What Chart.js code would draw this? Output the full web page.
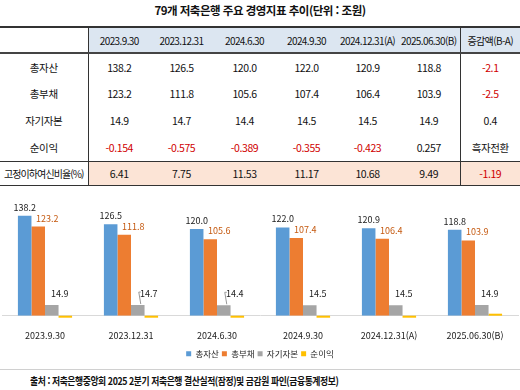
<!DOCTYPE html>
<html lang="ko">
<head>
<meta charset="UTF-8">
<title>79개 저축은행 주요 경영지표 추이</title>
<script src="https://cdn.jsdelivr.net/npm/chart.js"></script>
<style>
  body { margin: 0; background: #fff; font-family: "Noto Sans CJK KR", "Noto Sans", sans-serif; color: #111; }
  .wrap { position: relative; width: 520px; height: 390px; overflow: hidden; }
  .titulo { position: absolute; top: 2px; left: 0; width: 520px; text-align: center; font-size: 11.5px; font-weight: bold; letter-spacing: -0.5px; }
  table { position: absolute; top: 26px; left: 0; width: 520px; border-collapse: collapse; table-layout: fixed; font-family: "Noto Sans CJK KR", sans-serif; font-size: 10.5px; letter-spacing: -0.4px; }
  td, th { padding: 0; text-align: center; font-weight: normal; white-space: nowrap; overflow: visible; }
  thead tr { height: 26px; }
  thead th { background: #dce6f1; border-top: 2px solid #333; border-bottom: 2px solid #444; font-size: 10px; letter-spacing: -0.6px; }
  thead th:first-child { background: #fff; }
  tbody tr { height: 27px; }
  tbody tr.npl { height: 24px; border-top: 1px solid #333; border-bottom: 1px solid #333; }
  tbody tr.npl td { background: #fce4d6; }
  tbody tr.npl td:first-child { background: #fff; font-size: 10px; letter-spacing: -0.9px; }
  .c0 { border-right: 1px solid #333; }
  .c6 { border-right: 1px solid #333; }
  .neg { color: #d00000; }
  .grafico-container { position: absolute; top: 190px; left: 0; width: 520px; height: 178px; }
  .fonte { position: absolute; top: 369px; left: 0; width: 520px; height: 21px; border-top: 1px solid #d0d0d0; background: #fff; }
  .fonte span { position: absolute; left: 30px; top: 3px; font-size: 10.5px; font-weight: bold; letter-spacing: -0.5px; white-space: nowrap; transform: scaleX(0.84); transform-origin: left center; }
</style>
</head>
<body>
<div class="wrap">
  <div class="titulo">79개 저축은행 주요 경영지표 추이(단위 : 조원)</div>
  <table id="tabela">
    <colgroup>
      <col style="width:88px"><col style="width:62px"><col style="width:63px"><col style="width:63px">
      <col style="width:61px"><col style="width:61px"><col style="width:62px"><col style="width:60px">
    </colgroup>
    <thead><tr id="cabecalho"></tr></thead>
    <tbody id="corpo"></tbody>
  </table>
  <div class="grafico-container">
    <canvas id="grafico" width="520" height="178"></canvas>
  </div>
  <div class="fonte"><span>출처 : 저축은행중앙회 2025 2분기 저축은행 결산실적(잠정)및 금감원 파인(금융통계정보)</span></div>
</div>

<script>
  const datas = ['2023.9.30', '2023.12.31', '2024.6.30', '2024.9.30', '2024.12.31(A)', '2025.06.30(B)'];
  const series = ['총자산', '총부채', '자기자본', '순이익'];
  const totalAssets = [138.2, 126.5, 120.0, 122.0, 120.9, 118.8];
  const totalLiab = [123.2, 111.8, 105.6, 107.4, 106.4, 103.9];
  const equity = [14.9, 14.7, 14.4, 14.5, 14.5, 14.9];
  const netIncome = [-0.154, -0.575, -0.389, -0.355, -0.423, 0.257];
  const nplRatio = [6.41, 7.75, 11.53, 11.17, 10.68, 9.49];
  const variacao = ['-2.1', '-2.5', '0.4', '흑자전환', '-1.19'];

  // tabela
  const cab = document.getElementById('cabecalho');
  let h = '<th class="c0"></th>';
  datas.forEach((d, i) => { h += `<th class="${i === 5 ? 'c6' : ''}">${d}</th>`; });
  h += '<th>증감액(B-A)</th>';
  cab.innerHTML = h;

  function celula(v, casas) {
    const txt = typeof v === 'number' ? v.toFixed(casas) : v;
    const neg = String(txt).startsWith('-');
    return `<span class="${neg ? 'neg' : ''}">${txt}</span>`;
  }

  const linhas = [
    { nome: '총자산', vals: totalAssets, casas: 1, varia: variacao[0] },
    { nome: '총부채', vals: totalLiab, casas: 1, varia: variacao[1] },
    { nome: '자기자본', vals: equity, casas: 1, varia: variacao[2] },
    { nome: '순이익', vals: netIncome, casas: 3, varia: variacao[3] },
    { nome: '고정이하여신비율(%)', vals: nplRatio, casas: 2, varia: variacao[4], cls: 'npl' }
  ];
  let corpo = '';
  linhas.forEach(l => {
    corpo += `<tr class="${l.cls || ''}"><td class="c0">${l.nome}</td>`;
    l.vals.forEach((v, i) => { corpo += `<td class="${i === 5 ? 'c6' : ''}">${celula(v, l.casas)}</td>`; });
    corpo += `<td>${celula(l.varia)}</td></tr>`;
  });
  document.getElementById('corpo').innerHTML = corpo;

  // rotulos das barras
  const rotulos = {
    id: 'rotulos',
    afterDatasetsDraw(chart) {
      const ctx = chart.ctx;
      ctx.save();
      ctx.font = '9px "Noto Sans CJK KR"';
      ctx.textAlign = 'center';
      ctx.textBaseline = 'bottom';
      [0, 1, 2].forEach(i => {
        chart.getDatasetMeta(i).data.forEach((bar, j) => {
          const v = chart.data.datasets[i].data[j].toFixed(1);
          let x = bar.x, y = bar.y - 4;
          ctx.fillStyle = '#222';
          if (i === 1) { ctx.fillStyle = '#c55a11'; x += 9; }
          if (i === 2) {
            x += 8; y -= 3;
            if (j === 1 || j === 2) {
              x += 3;
              ctx.strokeStyle = '#999';
              ctx.lineWidth = 1;
              ctx.beginPath();
              ctx.moveTo(bar.x + 3, bar.y - 1);
              ctx.lineTo(x - 10, y - 6);
              ctx.lineTo(x - 8, y - 6);
              ctx.stroke();
            }
          }
          ctx.fillText(v, x, y);
        });
      });
      ctx.restore();
    }
  };

  const ctx = document.getElementById('grafico').getContext('2d');
  new Chart(ctx, {
    type: 'bar',
    data: {
      labels: datas,
      datasets: [
        { label: series[0], data: totalAssets, backgroundColor: '#5b9bd5' },
        { label: series[1], data: totalLiab, backgroundColor: '#ed7d31' },
        { label: series[2], data: equity, backgroundColor: '#a5a5a5' },
        { label: series[3], data: netIncome, backgroundColor: '#ffc000', minBarLength: 2, clip: false }
      ]
    },
    options: {
      responsive: false,
      animation: false,
      categoryPercentage: 0.63,
      barPercentage: 1,
      layout: { padding: { top: 10, left: 2, right: 2 } },
      scales: {
        x: {
          grid: { display: false },
          border: { color: '#d9d9d9' },
          ticks: { color: '#222', font: { size: 9, family: 'Noto Sans CJK KR' }, maxRotation: 0, autoSkip: false, padding: 6 }
        },
        y: { display: false, min: 0, max: 160 }
      },
      plugins: {
        legend: {
          position: 'bottom',
          labels: { boxWidth: 5, boxHeight: 5, padding: 3, color: '#222', font: { size: 8.5, family: 'Noto Sans CJK KR' } }
        },
        tooltip: { enabled: false }
      }
    },
    plugins: [rotulos]
  });
</script>
</body>
</html>
